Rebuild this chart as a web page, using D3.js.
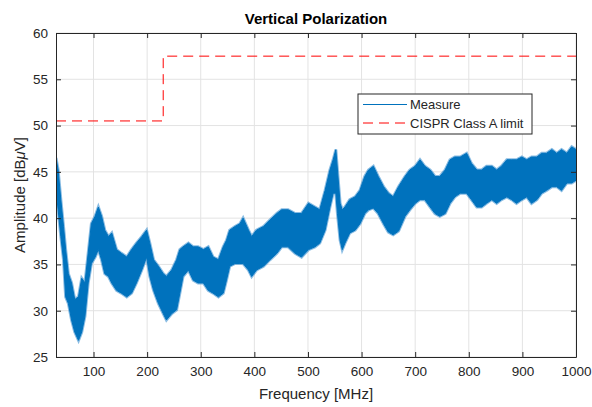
<!DOCTYPE html>
<html>
<head>
<meta charset="utf-8">
<script src="https://cdn.jsdelivr.net/npm/d3@7"></script>
<style>
    body { margin: 0; background: #fff; }
    #chart { width: 592px; height: 407px; }
    text { font-family: "Liberation Sans", Arial, Helvetica, sans-serif; fill: #262626; }
</style>
</head>
<body>
<div id="chart"></div>
<script>
"use strict";

var freqs = [30, 34, 39, 44, 48, 53, 59, 65, 72, 78, 84, 90, 96, 103, 109, 115, 121, 128, 134, 143,
    152, 162, 171, 180, 190, 199, 205, 212, 221, 230, 236, 246, 255, 261, 267, 277, 286, 295, 305, 314,
    323, 333, 342, 348, 354, 364, 373, 379, 389, 395, 404, 417, 429, 442, 451, 463, 476, 488, 501, 513,
    522, 532, 541, 547, 552, 555, 560, 564, 569, 578, 588, 597, 606, 613, 622, 631, 641, 650, 659, 669,
    681, 690, 700, 709, 718, 728, 737, 746, 756, 765, 774, 784, 796, 805, 815, 824, 833, 843, 852, 861,
    871, 880, 889, 899, 908, 917, 927, 936, 945, 955, 964, 973, 983, 992, 1000];
var upperDb = [46.5, 45.2, 42.0, 39.1, 36.6, 34.0, 33.0, 31.2, 31.5, 33.5, 33.0, 36.2, 39.4, 40.2, 41.2, 40.2, 38.7, 38.0, 38.4, 36.6,
    36.2, 35.8, 36.6, 37.3, 38.0, 38.7, 37.3, 35.5, 34.8, 34.0, 33.7, 34.4, 35.5, 36.6, 36.9, 37.3, 36.9, 36.9, 36.6, 36.9,
    35.8, 35.5, 36.9, 37.6, 38.7, 39.1, 39.4, 40.0, 38.7, 38.0, 38.7, 39.1, 39.8, 40.5, 40.9, 40.9, 40.5, 40.5, 41.6, 41.2,
    40.9, 43.0, 45.2, 46.3, 47.4, 45.2, 41.6, 40.9, 41.2, 42.0, 42.3, 43.0, 44.5, 45.2, 45.6, 44.5, 43.4, 42.7, 42.3, 43.4,
    44.5, 45.2, 45.6, 46.3, 45.6, 45.2, 44.5, 44.5, 45.2, 46.3, 46.6, 46.6, 47.0, 45.9, 45.2, 45.2, 45.6, 45.6, 45.2, 45.6,
    46.3, 46.3, 46.3, 46.6, 46.3, 46.6, 46.6, 47.0, 47.0, 47.4, 47.0, 47.4, 47.0, 47.7, 47.4];
var lowerDb = [43.0, 40.9, 38.0, 35.5, 31.5, 30.8, 29.0, 27.7, 26.8, 27.7, 29.4, 33.0, 35.1, 35.8, 36.6, 35.5, 34.0, 33.7, 33.0, 32.2,
    31.9, 31.5, 31.9, 33.0, 34.4, 35.8, 33.7, 32.2, 30.8, 29.7, 29.0, 29.7, 30.1, 31.9, 33.7, 34.4, 33.3, 33.0, 33.0, 32.2,
    31.9, 31.5, 31.9, 33.3, 34.8, 35.1, 35.1, 35.1, 34.4, 33.7, 34.4, 34.8, 35.5, 36.2, 36.9, 36.9, 36.2, 35.8, 36.6, 36.9,
    37.3, 38.7, 41.2, 42.7, 42.7, 40.5, 37.6, 36.6, 37.3, 38.4, 38.7, 39.4, 40.5, 40.9, 41.1, 40.5, 39.4, 38.5, 38.2, 38.6,
    40.2, 40.9, 41.6, 42.0, 42.0, 41.2, 40.5, 40.2, 40.5, 41.6, 42.3, 42.7, 42.7, 42.0, 41.2, 41.2, 41.6, 42.0, 41.6, 42.0,
    42.3, 42.0, 41.6, 42.0, 42.3, 41.6, 42.0, 42.7, 43.0, 43.4, 43.4, 43.0, 43.8, 43.8, 44.1];

// CISPR Class A limit (step)
var limitFreqs = [30, 230, 230, 1000];
var limitDb = [50.5, 50.5, 57.5, 57.5];

var xTicks = [100, 200, 300, 400, 500, 600, 700, 800, 900, 1000];
var yTicks = [25, 30, 35, 40, 45, 50, 55, 60];
var legendLabels = ["Measure", "CISPR Class A limit"];

var blue = "#0072bd";
var red = "#ff0000";

function draw() {
    var width = 592, height = 407;
    var margin = { top: 33, right: 16, bottom: 50, left: 56 };
    var w = width - margin.left - margin.right;
    var h = height - margin.top - margin.bottom;

    var svg = d3.select("#chart").append("svg")
        .attr("width", width)
        .attr("height", height);

    var g = svg.append("g")
        .attr("transform", "translate(" + margin.left + "," + margin.top + ")");

    var xScale = d3.scaleLinear().domain([30, 1000]).range([0, w]);
    var yScale = d3.scaleLinear().domain([25, 60]).range([h, 0]);

    // clip so the fuzzy band edge stays inside the box
    svg.append("defs").append("clipPath")
        .attr("id", "plot-clip")
        .append("rect")
        .attr("width", w).attr("height", h);

    // grid
    g.append("g").selectAll("line")
        .data(xTicks)
        .enter().append("line")
        .attr("x1", function (d) { return xScale(d); })
        .attr("x2", function (d) { return xScale(d); })
        .attr("y1", 0).attr("y2", h)
        .attr("stroke", "#e3e3e3").attr("stroke-width", 1);
    g.append("g").selectAll("line")
        .data(yTicks)
        .enter().append("line")
        .attr("y1", function (d) { return yScale(d); })
        .attr("y2", function (d) { return yScale(d); })
        .attr("x1", 0).attr("x2", w)
        .attr("stroke", "#e3e3e3").attr("stroke-width", 1);

    // measurement band
    var points = freqs.map(function (f, i) {
        return { f: f, hi: upperDb[i], lo: lowerDb[i] };
    });
    var area = d3.area()
        .x(function (d) { return xScale(d.f); })
        .y0(function (d) { return yScale(d.lo); })
        .y1(function (d) { return yScale(d.hi); });
    var band = g.append("g").attr("clip-path", "url(#plot-clip)");
    band.append("path")
        .datum(points)
        .attr("d", area)
        .attr("fill", "none")
        .attr("stroke", "#3b8fd0")
        .attr("stroke-opacity", 0.6)
        .attr("stroke-width", 3);
    band.append("path")
        .datum(points)
        .attr("d", area)
        .attr("fill", blue)
        .attr("stroke", blue)
        .attr("stroke-width", 1);

    // limit line
    var limitPoints = limitFreqs.map(function (f, i) { return [f, limitDb[i]]; });
    g.append("path")
        .datum(limitPoints)
        .attr("d", d3.line()
            .x(function (d) { return xScale(d[0]); })
            .y(function (d) { return yScale(d[1]); }))
        .attr("fill", "none")
        .attr("stroke", red)
        .attr("stroke-width", 1)
        .attr("stroke-dasharray", "10,6");

    // axes: ticks inside, on all four sides
    function styleAxis(sel) {
        sel.selectAll("path").attr("stroke", "#262626");
        sel.selectAll("line").attr("stroke", "#262626");
        sel.selectAll("text")
            .style("font-family", "'Liberation Sans', Arial, sans-serif")
            .style("font-size", "13.5px")
            .attr("fill", "#262626");
    }

    g.append("g")
        .attr("transform", "translate(0," + h + ")")
        .call(d3.axisBottom(xScale).tickValues(xTicks).tickFormat(d3.format("d"))
            .tickSizeInner(-5).tickSizeOuter(0).tickPadding(9))
        .call(styleAxis);
    g.append("g")
        .call(d3.axisTop(xScale).tickValues(xTicks).tickSizeInner(-5).tickSizeOuter(0).tickFormat(""))
        .call(styleAxis);
    g.append("g")
        .call(d3.axisLeft(yScale).tickValues(yTicks).tickSizeInner(-5).tickSizeOuter(0).tickPadding(8))
        .call(styleAxis);
    g.append("g")
        .attr("transform", "translate(" + w + ",0)")
        .call(d3.axisRight(yScale).tickValues(yTicks).tickSizeInner(-5).tickSizeOuter(0).tickFormat(""))
        .call(styleAxis);

    g.selectAll(".domain").attr("stroke-width", 1);

    // title and labels
    svg.append("text")
        .attr("x", margin.left + w / 2)
        .attr("y", 24)
        .attr("text-anchor", "middle")
        .style("font-size", "15px")
        .style("font-weight", "bold")
        .style("fill", "#000")
        .text("Vertical Polarization");

    svg.append("text")
        .attr("x", margin.left + w / 2)
        .attr("y", 399)
        .attr("text-anchor", "middle")
        .style("font-size", "15px")
        .text("Frequency [MHz]");

    var yLabel = svg.append("text")
        .attr("transform", "translate(25," + (margin.top + h / 2) + ") rotate(-90)")
        .attr("text-anchor", "middle")
        .style("font-size", "15px");
    yLabel.append("tspan").text("Amplitude [dB");
    yLabel.append("tspan").style("font-style", "italic").text("\u03bc");
    yLabel.append("tspan").text("V]");

    // legend
    var legend = svg.append("g").attr("transform", "translate(358,94)");
    legend.append("rect")
        .attr("width", 174).attr("height", 40)
        .attr("fill", "#fff")
        .attr("stroke", "#262626").attr("stroke-width", 1);
    var rows = legend.selectAll(".row")
        .data(legendLabels)
        .enter().append("g")
        .attr("class", "row")
        .attr("transform", function (d, i) { return "translate(0," + (10.5 + i * 18.5) + ")"; });
    rows.append("line")
        .attr("x1", 5).attr("x2", 49)
        .attr("stroke", function (d, i) { return i === 0 ? blue : red; })
        .attr("stroke-dasharray", function (d, i) { return i === 0 ? null : "10,6"; })
        .attr("stroke-width", 1);
    rows.append("text")
        .attr("x", 52)
        .attr("dy", "0.35em")
        .style("font-size", "13px")
        .text(function (d) { return d; });
}

draw();
</script>
</body>
</html>
